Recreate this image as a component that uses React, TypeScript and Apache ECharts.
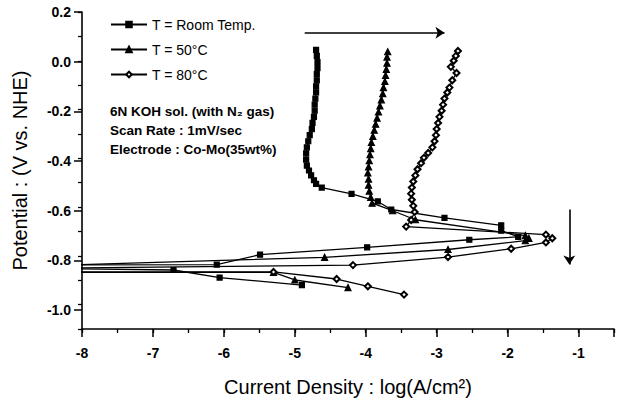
import { useEffect, useRef } from "react";
import * as echarts from "echarts";

const seriesNames = ["T = Room Temp.", "T = 50°C", "T = 80°C"];

// [log(A/cm2), Potential V]
const roomTemp: [number, number][] = [
  [-4.90, -0.920], [-6.06, -0.889], [-6.71, -0.858], [-9.0, -0.850],
  [-9.0, -0.838], [-6.10, -0.836], [-5.49, -0.795], [-3.98, -0.765],
  [-2.54, -0.734], [-1.85, -0.722], [-2.09, -0.697], [-2.09, -0.675],
  [-2.89, -0.644], [-3.64, -0.610], [-3.83, -0.577], [-4.20, -0.546],
  [-4.62, -0.520], [-4.70, -0.505], [-4.73, -0.490], [-4.77, -0.470],
  [-4.80, -0.450], [-4.83, -0.430], [-4.84, -0.405], [-4.84, -0.380],
  [-4.83, -0.355], [-4.81, -0.330], [-4.79, -0.305], [-4.76, -0.280],
  [-4.75, -0.255], [-4.73, -0.230], [-4.72, -0.205], [-4.72, -0.180],
  [-4.71, -0.155], [-4.70, -0.130], [-4.70, -0.105], [-4.69, -0.080],
  [-4.69, -0.055], [-4.68, -0.030], [-4.68, -0.005], [-4.69, 0.020],
  [-4.70, 0.045],
];

const temp50: [number, number][] = [
  [-4.25, -0.930], [-5.00, -0.899], [-5.30, -0.868], [-9.0, -0.868],
  [-9.0, -0.845], [-4.58, -0.806], [-2.84, -0.774], [-1.75, -0.738],
  [-1.70, -0.728], [-1.75, -0.717], [-3.30, -0.652], [-3.62, -0.615],
  [-3.91, -0.584], [-3.93, -0.560], [-3.95, -0.535], [-3.96, -0.510],
  [-3.96, -0.485], [-3.97, -0.460], [-3.96, -0.435], [-3.95, -0.410],
  [-3.94, -0.385], [-3.93, -0.360], [-3.92, -0.335], [-3.90, -0.310],
  [-3.88, -0.285], [-3.86, -0.260], [-3.84, -0.235], [-3.82, -0.210],
  [-3.80, -0.185], [-3.78, -0.160], [-3.76, -0.135], [-3.75, -0.110],
  [-3.73, -0.085], [-3.72, -0.060], [-3.71, -0.035], [-3.70, -0.010],
  [-3.70, 0.015], [-3.69, 0.037],
];

const temp80: [number, number][] = [
  [-3.46, -0.959], [-3.97, -0.925], [-4.41, -0.895], [-5.30, -0.866],
  [-9.0, -0.866], [-9.0, -0.852], [-4.18, -0.838], [-2.84, -0.805],
  [-1.95, -0.771], [-1.46, -0.745], [-1.37, -0.728], [-1.46, -0.713],
  [-3.43, -0.680], [-3.36, -0.653], [-3.31, -0.620], [-3.33, -0.595],
  [-3.35, -0.570], [-3.36, -0.545], [-3.35, -0.520], [-3.33, -0.495],
  [-3.30, -0.470], [-3.27, -0.445], [-3.22, -0.420], [-3.18, -0.398],
  [-3.12, -0.378], [-3.06, -0.355], [-3.03, -0.330], [-3.01, -0.305],
  [-3.00, -0.280], [-2.98, -0.255], [-2.96, -0.230], [-2.93, -0.205],
  [-2.91, -0.180], [-2.89, -0.155], [-2.85, -0.130], [-2.82, -0.110],
  [-2.78, -0.080], [-2.72, -0.050], [-2.80, -0.025], [-2.76, 0.000],
  [-2.73, 0.020], [-2.70, 0.040],
];

const X_MIN = -8;
const X_MAX = -0.5;
const Y_MIN = -1.1;
const Y_MAX = 0.2;
const Y_LABEL_MIN = -1.0;

const arrowRight: [number, number][] = [[-4.86, 0.115], [-2.89, 0.115]];
const arrowDown: [number, number][] = [[-1.13, -0.61], [-1.13, -0.835]];

const annotationLines = [
  "6N KOH sol. (with N₂ gas)",
  "Scan Rate : 1mV/sec",
  "Electrode : Co-Mo(35wt%)",
];

const FONT = "'Liberation Sans', Arial, Helvetica, sans-serif";

export default function App() {
  const ref = useRef<HTMLDivElement>(null);
  useEffect(() => {
    if (!ref.current) return;
    const chart = echarts.init(ref.current, undefined, { renderer: "svg" });
    const gridBottom = 67;
    const pxPerUnit = (402 - 12 - gridBottom) / (Y_MAX - Y_MIN);
    const grid2Bottom = gridBottom + (Y_LABEL_MIN - Y_MIN) * pxPerUnit;
    const black = "#000";
    const common = {
      type: "line" as const,
      xAxisIndex: 0,
      yAxisIndex: 0,
      color: black,
      lineStyle: { color: black, width: 1.3 },
      itemStyle: { color: black, borderColor: black, borderWidth: 1.2 },
      clip: true,
    };
    chart.setOption({
      animation: false,
      backgroundColor: "#fff",
      textStyle: { fontFamily: FONT },
      grid: [
        { left: 82, right: 7, top: 12, bottom: gridBottom },
        { left: 82, right: 7, top: 12, bottom: grid2Bottom },
      ],
      legend: {
        left: 105,
        top: 12,
        orient: "vertical",
        itemWidth: 36,
        itemHeight: 7,
        itemGap: 10,
        data: seriesNames,
        textStyle: { fontSize: 14, color: black, fontFamily: FONT, lineHeight: 15 },
      },
      xAxis: [
        {
          gridIndex: 0,
          type: "value",
          min: X_MIN,
          max: X_MAX,
          interval: 1,
          position: "bottom",
          axisLine: { show: true, onZero: false, lineStyle: { color: black, width: 1.6 } },
          axisTick: { show: true, length: 8, lineStyle: { color: black, width: 1.5 } },
          axisLabel: {
            color: black,
            fontSize: 14,
            fontWeight: "bold",
            margin: 17,
            formatter: (v: number) => (Number.isInteger(v) ? String(v) : ""),
          },
          splitLine: { show: false },
          name: "Current Density : log(A/cm²)",
          nameLocation: "middle",
          nameGap: 48,
          nameTextStyle: { fontSize: 20, color: black, fontFamily: FONT },
        },
        {
          gridIndex: 0,
          type: "value",
          min: X_MIN,
          max: X_MAX,
          interval: 0.5,
          position: "bottom",
          axisLine: { show: false, onZero: false },
          axisTick: { show: true, length: 4, lineStyle: { color: black, width: 1.3 } },
          axisLabel: { show: false },
          splitLine: { show: false },
        },
        { gridIndex: 1, type: "value", min: X_MIN, max: X_MAX, show: false },
      ],
      yAxis: [
        {
          gridIndex: 0,
          type: "value",
          min: Y_MIN,
          max: Y_MAX,
          interval: 0.1,
          axisLine: { show: true, onZero: false, lineStyle: { color: black, width: 1.6 } },
          axisTick: { show: true, length: 4, lineStyle: { color: black, width: 1.3 } },
          axisLabel: { show: false },
          splitLine: { show: false },
          name: "Potential : (V vs. NHE)",
          nameLocation: "middle",
          nameRotate: 90,
          nameGap: 52,
          nameTextStyle: { fontSize: 20, color: black, fontFamily: FONT },
        },
        {
          gridIndex: 1,
          type: "value",
          min: Y_LABEL_MIN,
          max: Y_MAX,
          interval: 0.2,
          axisLine: { show: false, onZero: false },
          axisTick: { show: true, length: 8, lineStyle: { color: black, width: 1.5 } },
          axisLabel: {
            color: black,
            fontSize: 14,
            fontWeight: "bold",
            margin: 11,
            formatter: (v: number) => (Math.abs(v) < 1e-9 ? "0.0" : v.toFixed(1)),
          },
          splitLine: { show: false },
        },
      ],
      graphic: annotationLines.map((t, i) => ({
        type: "text",
        x: 110,
        y: 111 + i * 19,
        style: {
          text: t,
          fill: black,
          font: `bold 13.5px ${FONT}`,
          verticalAlign: "middle",
        },
      })),
      series: [
        {
          ...common,
          name: seriesNames[0],
          data: roomTemp,
          symbol: "rect",
          symbolSize: 5,
          markLine: {
            silent: true,
            symbol: ["none", "arrow"],
            symbolSize: 9,
            label: { show: false },
            lineStyle: { color: black, width: 1.6, type: "solid" },
            data: [
              [{ coord: arrowRight[0] }, { coord: arrowRight[1] }],
              [{ coord: arrowDown[0] }, { coord: arrowDown[1] }],
            ],
          },
        },
        { ...common, name: seriesNames[1], data: temp50, symbol: "triangle", symbolSize: 6 },
        { ...common, name: seriesNames[2], data: temp80, symbol: "emptyDiamond", symbolSize: 6 },
      ],
    });
    return () => chart.dispose();
  }, []);
  return (
    <div
      ref={ref}
      style={{ position: "fixed", left: 0, top: 0, width: 621, height: 402, background: "#fff" }}
    />
  );
}
